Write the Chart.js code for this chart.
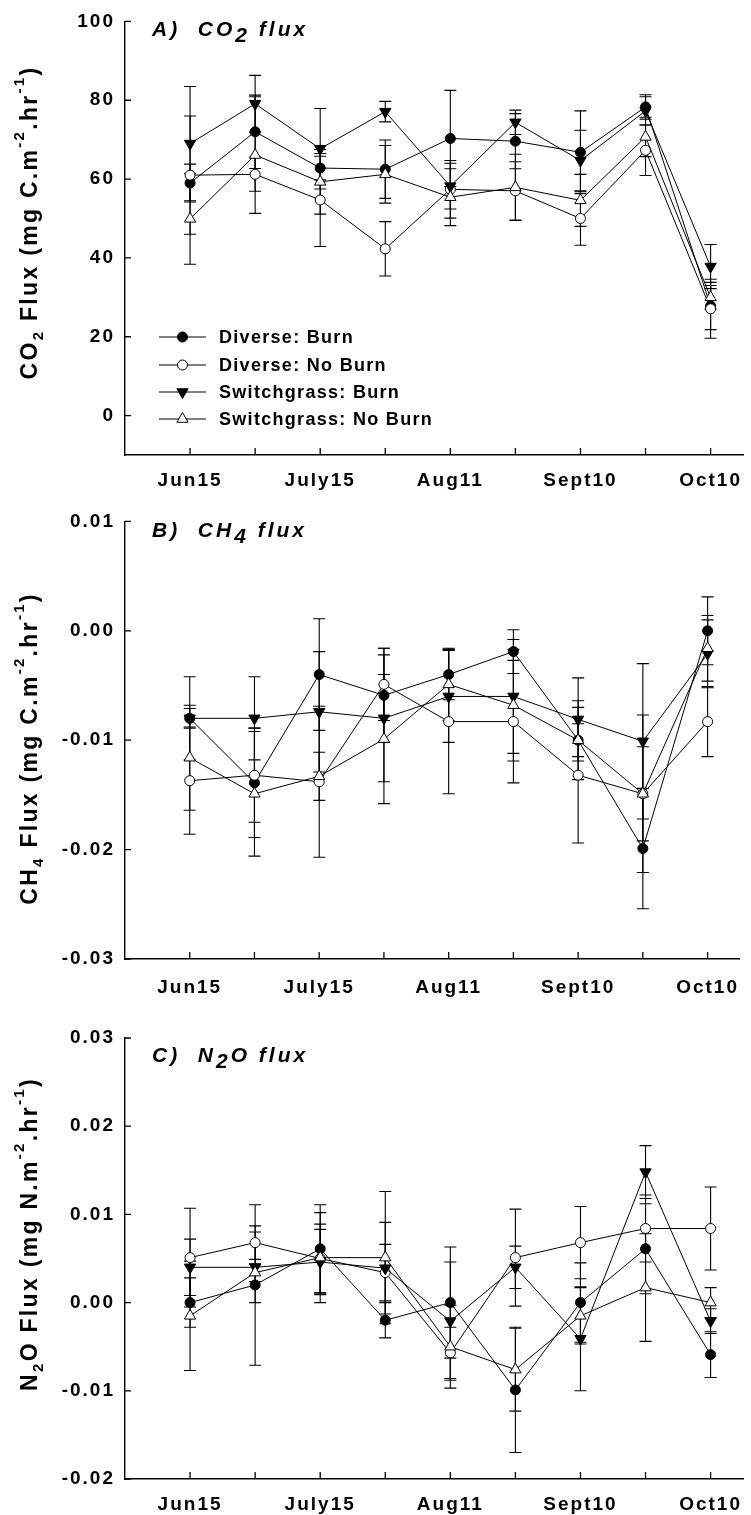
<!DOCTYPE html>
<html>
<head>
<meta charset="utf-8">
<script src="https://cdn.jsdelivr.net/npm/chart.js@4.4.1/dist/chart.umd.min.js"></script>
<style>
  html, body { margin: 0; padding: 0; background: #fff; }
  #wrap { position: relative; width: 751px; height: 1515px; }
  canvas { position: absolute; left: 0; }
</style>
</head>
<body>
<div id="wrap">
  <canvas id="co2Chart" width="751" height="500" style="top:0px"></canvas>
  <canvas id="ch4Chart" width="751" height="505" style="top:500px"></canvas>
  <canvas id="n2oChart" width="751" height="510" style="top:1005px"></canvas>
</div>
<script>
const FONT = "'Liberation Sans', Arial, sans-serif";

// sampling dates (only every other one is labelled)
const tickLabels = ['Jun15', '', 'July15', '', 'Aug11', '', 'Sept10', '', 'Oct10'];
const seriesNames = ['Diverse: Burn', 'Diverse: No Burn', 'Switchgrass: Burn', 'Switchgrass: No Burn'];

// CO2 flux, mg C m-2 hr-1 (mean and SE)
const co2DivBurn     = [59.0, 72.0, 62.8, 62.5, 70.3, 69.6, 66.8, 78.3, 27.8];
const co2DivBurnSe   = [4.8, 9.3, 3.0, 7.4, 12.2, 7.0, 10.5, 3.1, 6.0];
const co2DivNoBurn   = [61.0, 61.2, 54.7, 42.3, 57.4, 57.0, 50.0, 67.3, 27.1];
const co2DivNoBurnSe = [15.0, 4.3, 11.8, 6.9, 7.3, 7.4, 6.8, 6.4, 7.5];
const co2SwBurn      = [69.0, 79.1, 67.7, 77.1, 58.2, 74.4, 64.7, 77.3, 37.8];
const co2SwBurnSe    = [14.5, 7.2, 10.2, 2.6, 5.8, 3.1, 7.7, 3.6, 5.6];
const co2SwNoBurn    = [49.9, 66.1, 59.3, 61.2, 55.4, 57.9, 54.6, 70.7, 30.0];
const co2SwNoBurnSe  = [11.5, 14.8, 8.2, 7.3, 7.2, 8.4, 6.6, 5.0, 3.0];

// CH4 flux, mg C m-2 hr-1
const ch4DivBurn     = [-0.0080, -0.0139, -0.0040, -0.0059, -0.0040, -0.0019, -0.0100, -0.0199, 0.0000];
const ch4DivBurnSe   = [0.0038, 0.0050, 0.0051, 0.0043, 0.0023, 0.0020, 0.0036, 0.0055, 0.0031];
const ch4DivNoBurn   = [-0.0137, -0.0132, -0.0138, -0.0049, -0.0083, -0.0083, -0.0132, -0.0149, -0.0083];
const ch4DivNoBurnSe = [0.0049, 0.0043, 0.0069, 0.0033, 0.0066, 0.0056, 0.0062, 0.0043, 0.0032];
const ch4SwBurn      = [-0.0080, -0.0080, -0.0074, -0.0080, -0.0060, -0.0060, -0.0081, -0.0101, -0.0021];
const ch4SwBurnSe    = [0.0009, 0.0038, 0.0055, 0.0058, 0.0042, 0.0052, 0.0038, 0.0071, 0.0031];
const ch4SwNoBurn    = [-0.0116, -0.0149, -0.0133, -0.0099, -0.0049, -0.0068, -0.0100, -0.0149, -0.0016];
const ch4SwNoBurnSe  = [0.0048, 0.0057, 0.0022, 0.0059, 0.0033, 0.0051, 0.0015, 0.0072, 0.0030];

// N2O flux, mg N m-2 hr-1
const n2oDivBurn     = [0.0000, 0.0020, 0.0061, -0.0020, 0.0000, -0.0099, 0.0000, 0.0061, -0.0059];
const n2oDivBurnSe   = [0.0028, 0.0091, 0.0050, 0.0020, 0.0063, 0.0071, 0.0045, 0.0051, 0.0026];
const n2oDivNoBurn   = [0.0051, 0.0068, 0.0050, 0.0034, -0.0057, 0.0051, 0.0068, 0.0084, 0.0084];
const n2oDivNoBurnSe = [0.0056, 0.0019, 0.0039, 0.0032, 0.0029, 0.0055, 0.0041, 0.0038, 0.0047];
const n2oSwBurn      = [0.0040, 0.0040, 0.0046, 0.0039, -0.0021, 0.0040, -0.0041, 0.0148, -0.0021];
const n2oSwBurnSe    = [0.0032, 0.0040, 0.0037, 0.0052, 0.0067, 0.0024, 0.0059, 0.0030, 0.0014];
const n2oSwNoBurn    = [-0.0015, 0.0034, 0.0051, 0.0051, -0.0050, -0.0076, -0.0015, 0.0017, 0.0000];
const n2oSwNoBurnSe  = [0.0062, 0.0010, 0.0051, 0.0075, 0.0047, 0.0047, 0.0032, 0.0061, 0.0017];

// marker per treatment: filled/open circle, filled down / open up triangle
const seriesMarks = [
  { fill: '#000', style: 'circle', rotation: 0, radius: 5 },
  { fill: '#fff', style: 'circle', rotation: 0, radius: 5 },
  { fill: '#000', style: 'triangle', rotation: 180, radius: 6.5 },
  { fill: '#fff', style: 'triangle', rotation: 0, radius: 6.5 }
];

Chart.defaults.font.family = FONT;
Chart.defaults.color = '#000';

// --- text helpers (sub/superscripts, letter spacing) ---
function segFont(style, kind, size) {
  const s = (kind === 'sub' || kind === 'sup') ? Math.round(size * 0.65) : size;
  return style + ' ' + s + 'px ' + FONT;
}
function segShift(kind, size) {
  if (kind === 'sub') return size * 0.25;
  if (kind === 'sup') return -size * 0.55;
  if (kind === 'low') return size * 0.3;
  return 0;
}
function segWidth(ctx, segs, style, size, spacing) {
  let w = 0;
  ctx.letterSpacing = '0px';
  segs.forEach(([t, kind]) => {
    ctx.font = segFont(style, kind, size);
    w += ctx.measureText(t).width + t.length * spacing;
  });
  return w;
}
function drawSegs(ctx, segs, x, y, style, size, spacing) {
  let cx = x;
  ctx.textAlign = 'left';
  ctx.textBaseline = 'alphabetic';
  segs.forEach(([t, kind]) => {
    ctx.font = segFont(style, kind, size);
    ctx.letterSpacing = '0px';
    const w = ctx.measureText(t).width + t.length * spacing;
    ctx.letterSpacing = spacing + 'px';
    ctx.fillText(t, cx, y + segShift(kind, size));
    cx += w;
  });
  ctx.letterSpacing = '0px';
}

// error bars are drawn under the lines and markers
const errorBars = {
  id: 'errorBars',
  beforeDatasetsDraw(chart) {
    const { ctx, scales: { y } } = chart;
    ctx.save();
    ctx.strokeStyle = '#000';
    ctx.lineWidth = 1.1;
    chart.data.datasets.forEach((ds, i) => {
      const meta = chart.getDatasetMeta(i);
      ds.errors.forEach((e, j) => {
        const pt = meta.data[j];
        const v = ds.data[j].y;
        const hi = y.getPixelForValue(v + e);
        const lo = y.getPixelForValue(v - e);
        ctx.beginPath();
        ctx.moveTo(pt.x, hi); ctx.lineTo(pt.x, lo);
        ctx.moveTo(pt.x - 6, hi); ctx.lineTo(pt.x + 6, hi);
        ctx.moveTo(pt.x - 6, lo); ctx.lineTo(pt.x + 6, lo);
        ctx.stroke();
      });
    });
    ctx.restore();
  }
};

// letter spacing for the axis tick labels
const spacedTicks = {
  id: 'spacedTicks',
  beforeDraw(chart) { chart.ctx.letterSpacing = '2px'; },
  afterDatasetsDraw(chart) { chart.ctx.letterSpacing = '0px'; }
};

// inward tick marks, panel title, rotated y title, inset legend
const decorations = {
  id: 'decorations',
  afterDraw(chart, args, opts) {
    const { ctx, chartArea: a, scales: { x, y } } = chart;
    ctx.save();
    ctx.letterSpacing = '0px';
    ctx.strokeStyle = '#000';
    ctx.lineWidth = 1.3;
    ctx.beginPath();
    x.ticks.forEach(t => {
      const px = x.getPixelForValue(t.value);
      ctx.moveTo(px, a.bottom); ctx.lineTo(px, a.bottom - 7);
    });
    y.ticks.forEach(t => {
      const py = y.getPixelForValue(t.value);
      ctx.moveTo(a.left, py); ctx.lineTo(a.left + 6, py);
    });
    ctx.stroke();

    ctx.fillStyle = '#000';
    drawSegs(ctx, opts.title, 152, opts.titleBaseline, 'italic bold', 21, 3);

    ctx.save();
    ctx.translate(37, opts.yTitleCenter);
    ctx.rotate(-Math.PI / 2);
    const w = segWidth(ctx, opts.yTitle, 'bold', 23, 2.3);
    drawSegs(ctx, opts.yTitle, -w / 2, 0, 'bold', 23, 2.3);
    ctx.restore();

    if (opts.legend) {
      const rows = [337, 365, 392, 419];
      chart.data.datasets.forEach((ds, i) => {
        const ly = rows[i];
        const m = seriesMarks[i];
        ctx.lineWidth = 1;
        ctx.strokeStyle = '#000';
        ctx.beginPath();
        ctx.moveTo(159, ly); ctx.lineTo(206, ly);
        ctx.stroke();
        ctx.fillStyle = m.fill;
        Chart.helpers.drawPoint(ctx, { pointStyle: m.style, rotation: m.rotation, radius: m.radius, borderWidth: 1 }, 182.5, ly);
        ctx.fillStyle = '#000';
        ctx.font = 'bold 18px ' + FONT;
        ctx.letterSpacing = '1.3px';
        ctx.textBaseline = 'middle';
        ctx.fillText(ds.label, 219, ly + 1);
        ctx.letterSpacing = '0px';
      });
    }
    ctx.restore();
  }
};

function makePanel(id, cfg) {
  const datasets = cfg.series.map((s, i) => ({
    label: seriesNames[i],
    data: s[0].map((v, j) => ({ x: j, y: v })),
    errors: s[1],
    borderColor: '#000',
    borderWidth: 1,
    backgroundColor: seriesMarks[i].fill,
    pointBackgroundColor: seriesMarks[i].fill,
    pointBorderColor: '#000',
    pointBorderWidth: 1,
    pointStyle: seriesMarks[i].style,
    pointRotation: seriesMarks[i].rotation,
    pointRadius: seriesMarks[i].radius,
    tension: 0,
    fill: false,
    clip: false,
    order: 4 - i
  }));

  return new Chart(document.getElementById(id), {
    type: 'line',
    data: { datasets },
    options: {
      responsive: false,
      animation: false,
      devicePixelRatio: 1,
      layout: { autoPadding: false, padding: { top: cfg.top, left: 0, right: 0, bottom: 0 } },
      plugins: {
        legend: { display: false },
        tooltip: { enabled: false },
        decorations: {
          title: cfg.title,
          titleBaseline: cfg.titleBaseline,
          yTitle: cfg.yTitle,
          yTitleCenter: cfg.yTitleCenter,
          legend: !!cfg.legend
        }
      },
      scales: {
        x: {
          type: 'linear',
          min: -1,
          max: 8.5,
          grid: { display: false, drawTicks: false },
          border: { display: true, color: '#000', width: 1.4 },
          afterBuildTicks: scale => { scale.ticks = tickLabels.map((_, i) => ({ value: i })); },
          afterFit: scale => { scale.height = cfg.axisHeight; },
          ticks: {
            autoSkip: false,
            maxRotation: 0,
            padding: cfg.labelPad,
            font: { size: 19, weight: 'bold' },
            callback: v => tickLabels[v] || ''
          }
        },
        y: {
          type: 'linear',
          min: cfg.yMin,
          max: cfg.yMax,
          grid: { display: false, drawTicks: false },
          border: { display: true, color: '#000', width: 1.4 },
          afterBuildTicks: scale => { scale.ticks = cfg.yTicks.map(v => ({ value: v })); },
          afterFit: scale => { scale.width = 125; },
          ticks: {
            padding: 10,
            font: { size: 19, weight: 'bold' },
            callback: v => v.toFixed(cfg.yDigits)
          }
        }
      }
    },
    plugins: [errorBars, spacedTicks, decorations]
  });
}

makePanel('co2Chart', {
  series: [[co2DivBurn, co2DivBurnSe], [co2DivNoBurn, co2DivNoBurnSe], [co2SwBurn, co2SwBurnSe], [co2SwNoBurn, co2SwNoBurnSe]],
  yMin: -10, yMax: 100, yTicks: [0, 20, 40, 60, 80, 100], yDigits: 0,
  top: 16, axisHeight: 45, labelPad: 14,
  title: [['A)  CO', ''], ['2', 'low'], [' flux', '']],
  titleBaseline: 36,
  yTitle: [['CO', ''], ['2', 'sub'], [' Flux (mg C.m', ''], ['-2', 'sup'], ['.hr', ''], ['-1', 'sup'], [')', '']],
  yTitleCenter: 222.5,
  legend: true
});

makePanel('ch4Chart', {
  series: [[ch4DivBurn, ch4DivBurnSe], [ch4DivNoBurn, ch4DivNoBurnSe], [ch4SwBurn, ch4SwBurnSe], [ch4SwNoBurn, ch4SwNoBurnSe]],
  yMin: -0.03, yMax: 0.01, yTicks: [-0.03, -0.02, -0.01, 0, 0.01], yDigits: 2,
  top: 17.5, axisHeight: 46, labelPad: 17,
  title: [['B)  CH', ''], ['4', 'low'], [' flux', '']],
  titleBaseline: 37,
  yTitle: [['CH', ''], ['4', 'sub'], [' Flux (mg C.m', ''], ['-2', 'sup'], ['.hr', ''], ['-1', 'sup'], [')', '']],
  yTitleCenter: 248.5
});

makePanel('n2oChart', {
  series: [[n2oDivBurn, n2oDivBurnSe], [n2oDivNoBurn, n2oDivNoBurnSe], [n2oSwBurn, n2oSwBurnSe], [n2oSwNoBurn, n2oSwNoBurnSe]],
  yMin: -0.02, yMax: 0.03, yTicks: [-0.02, -0.01, 0, 0.01, 0.02, 0.03], yDigits: 2,
  top: 33, axisHeight: 36, labelPad: 14,
  title: [['C)  N', ''], ['2', 'low'], ['O flux', '']],
  titleBaseline: 57,
  yTitle: [['N', ''], ['2', 'sub'], ['O Flux (mg N.m', ''], ['-2', 'sup'], ['.hr', ''], ['-1', 'sup'], [')', '']],
  yTitleCenter: 229
});
</script>
</body>
</html>
